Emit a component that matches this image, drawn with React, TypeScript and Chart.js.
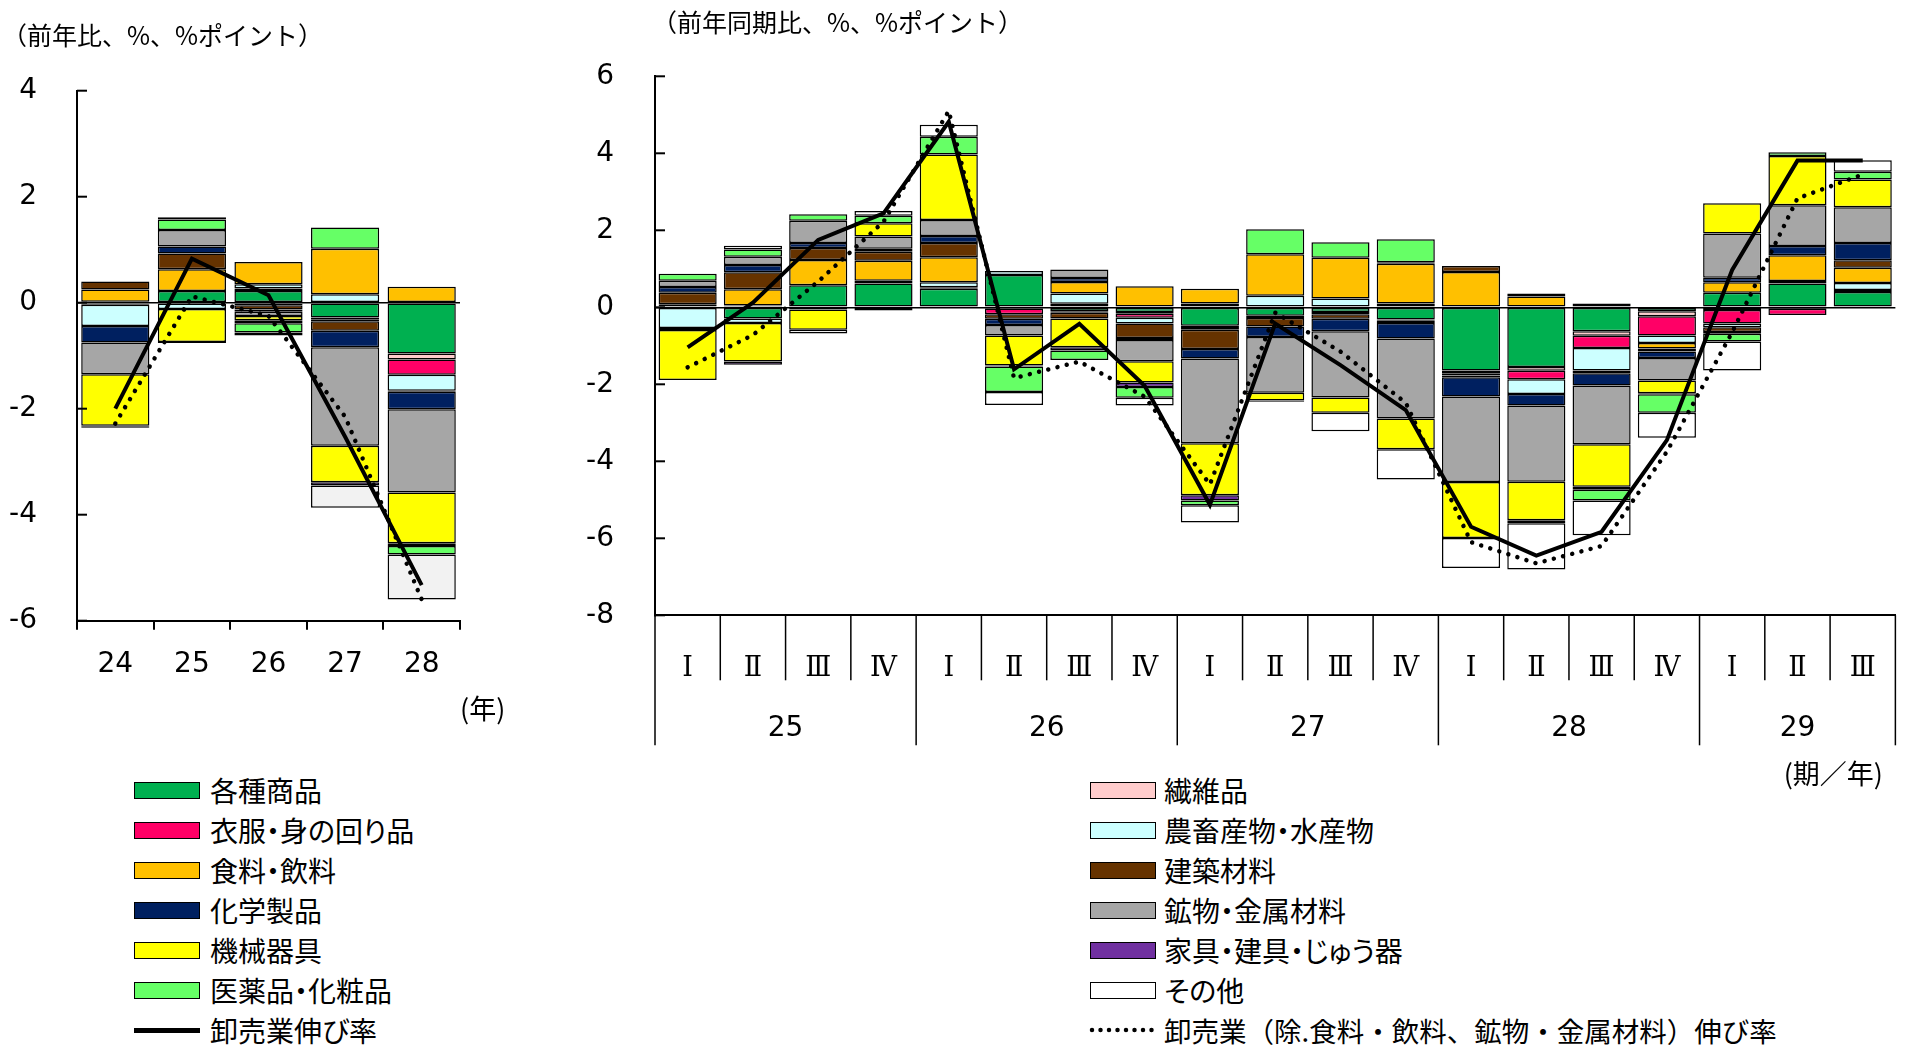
import React, { useEffect, useRef } from 'react';
import { Chart, registerables } from 'chart.js';
Chart.register(...registerables);

// ---------- data ----------
const SERIES = ['各種商品', '繊維品', '衣服・身の回り品', '農畜産物・水産物', '食料・飲料', '建築材料', '化学製品', '鉱物・金属材料', '機械器具', '家具・建具・じゅう器', '医薬品・化粧品', 'その他'];
const COLORS = ['#00B050', '#FFCCCC', '#FF0066', '#CCFFFF', '#FFC000', '#663300', '#002060', '#A6A6A6', '#FFFF00', '#7030A0', '#66FF66', '#FFFFFF'];
const LINE_LABEL = '卸売業伸び率';
const DOT_LABEL = '卸売業（除.食料・飲料、鉱物・金属材料）伸び率';

// left chart (annual)
const YEARS = ['24', '25', '26', '27', '28'];
const Y_KAKUSHU = [0.02, 0.22, 0.22, -0.28, -0.96];
const Y_SENI = [-0.02, 0, 0.05, -0.03, -0.11];
const Y_IFUKU = [-0.02, 0, -0.05, -0.04, -0.29];
const Y_NOCHIKU = [-0.40, -0.12, 0.08, 0.16, -0.30];
const Y_SHOKURYO = [0.23, 0.41, 0.42, 0.86, 0.30];
const Y_KENCHIKU = [0.15, 0.30, -0.08, -0.18, -0.02];
const Y_KAGAKU = [-0.31, 0.13, -0.04, -0.31, -0.33];
const Y_KOBUTSU = [-0.60, 0.31, -0.08, -1.86, -1.57];
const Y_KIKAI = [-0.97, -0.62, -0.08, -0.69, -0.96];
const Y_KAGU = [-0.02, -0.02, -0.06, -0.06, -0.05];
const Y_IYAKU = [0, 0.20, -0.17, 0.40, -0.16];
const Y_SONOTA = [-0.02, 0.04, -0.06, -0.42, -0.85];
const Y_TOTAL = [-2.0, 0.83, 0.14, -2.53, -5.33];
const Y_EXCL = [-2.28, 0.12, -0.25, -2.15, -5.6];

// right chart (quarterly)
const QUARTERS = ['Ⅰ', 'Ⅱ', 'Ⅲ', 'Ⅳ', 'Ⅰ', 'Ⅱ', 'Ⅲ', 'Ⅳ', 'Ⅰ', 'Ⅱ', 'Ⅲ', 'Ⅳ', 'Ⅰ', 'Ⅱ', 'Ⅲ', 'Ⅳ', 'Ⅰ', 'Ⅱ', 'Ⅲ'];
const Q_YEARS = ['25', '26', '27', '28', '29'];
const Q_YEAR_SPANS = [4, 4, 4, 4, 3];
const Q_KAKUSHU = [0.08, -0.29, 0.57, 0.62, 0.48, 0.84, -0.10, -0.12, -0.48, -0.22, -0.12, -0.32, -1.64, -1.55, -0.62, -0.10, 0.38, 0.62, 0.40];
const Q_SENI = [0, 0.05, 0, 0, 0.04, -0.03, 0.09, -0.05, -0.03, 0, -0.03, 0, -0.07, -0.10, -0.12, -0.13, -0.07, -0.04, 0.05];
const Q_IFUKU = [0, 0, -0.06, -0.08, 0, -0.15, -0.04, -0.10, -0.07, -0.06, -0.03, -0.03, -0.06, -0.22, -0.32, -0.50, -0.35, -0.16, 0];
const Q_NOCHIKU = [-0.54, -0.12, 0, 0.07, 0.13, 0.10, 0.27, -0.15, 0.10, 0.30, 0.23, 0.10, -0.05, -0.38, -0.58, -0.20, -0.10, 0.06, 0.18];
const Q_SHOKURYO = [-0.05, 0.42, 0.66, 0.52, 0.65, 0, 0.30, 0.55, 0.38, 1.08, 1.06, 1.03, 0.92, 0.28, 0.10, -0.14, 0.27, 0.67, 0.40];
const Q_KENCHIKU = [0.30, 0.44, 0.31, 0.23, 0.37, -0.12, -0.15, -0.38, -0.50, -0.22, -0.12, -0.06, 0.15, 0.08, -0.07, -0.08, -0.12, 0, 0.19];
const Q_KAGAKU = [0.15, 0.19, 0.13, 0.08, 0.18, -0.16, 0.10, -0.05, -0.25, -0.27, -0.32, -0.40, -0.50, -0.30, -0.32, -0.17, 0.12, 0.24, 0.45];
const Q_KOBUTSU = [0.16, 0.21, 0.58, 0.32, 0.42, -0.27, 0.22, -0.55, -2.20, -1.45, -1.72, -2.08, -2.22, -1.98, -1.53, -0.58, 1.15, 1.06, 0.93];
const Q_KIKAI = [-1.30, -1.00, -0.52, 0.34, 1.70, -0.78, -0.75, -0.55, -1.35, -0.20, -0.40, -0.80, -1.45, -1.00, -1.10, -0.33, 0.78, 1.28, 0.72];
const Q_KAGU = [0, -0.08, 0, 0, 0, -0.03, -0.08, -0.12, -0.14, -0.03, 0, 0.04, 0, -0.08, -0.08, -0.03, -0.05, 0, 0];
const Q_IYAKU = [0.18, 0.19, 0.17, 0.20, 0.46, -0.66, -0.25, -0.28, -0.12, 0.65, 0.40, 0.60, 0, 0, -0.28, -0.48, -0.20, 0.10, 0.20];
const Q_SONOTA = [0, 0.10, -0.10, 0.12, 0.31, -0.34, 0, -0.20, -0.45, 0, -0.48, -0.78, -0.78, -1.20, -0.90, -0.65, -0.75, 0, 0.30];
const Q_TOTAL = [-1.04, 0.12, 1.75, 2.44, 4.82, -1.61, -0.43, -2.04, -5.13, -0.42, -1.50, -2.67, -5.70, -6.45, -5.83, -3.45, 0.97, 3.81, 3.81];
const Q_EXCL = [-1.56, -0.72, 0.67, 2.22, 5.10, -1.84, -1.41, -2.32, -4.60, -0.14, -1.15, -2.48, -6.10, -6.65, -6.20, -3.75, -0.65, 2.83, 3.45];

const YEAR_SERIES = [Y_KAKUSHU, Y_SENI, Y_IFUKU, Y_NOCHIKU, Y_SHOKURYO, Y_KENCHIKU, Y_KAGAKU, Y_KOBUTSU, Y_KIKAI, Y_KAGU, Y_IYAKU, Y_SONOTA];
const Q_SERIES = [Q_KAKUSHU, Q_SENI, Q_IFUKU, Q_NOCHIKU, Q_SHOKURYO, Q_KENCHIKU, Q_KAGAKU, Q_KOBUTSU, Q_KIKAI, Q_KAGU, Q_IYAKU, Q_SONOTA];

const NUM_FONT = "'DejaVu Sans', Verdana, sans-serif";
const JP_FONT = "'Noto Sans CJK JP', 'Noto Sans', sans-serif";
const ROMAN_FONT = "'DejaVu Serif', 'Noto Sans CJK JP', serif";

function buildDatasets(series: number[][], total: number[], excl: number[], otherColor: string) {
  const bars = series.map((vals, i) => ({
    type: 'bar',
    label: SERIES[i],
    data: vals,
    backgroundColor: i === 11 ? otherColor : COLORS[i],
    borderColor: '#000',
    borderWidth: 1.5,
    borderSkipped: false,
    stack: 'bars',
    order: 2,
    barPercentage: 0.89,
    categoryPercentage: 1,
  }));
  const lines = [
    {
      type: 'line', label: LINE_LABEL, data: total, borderColor: '#000', borderWidth: 4,
      pointRadius: 0, tension: 0, fill: false, stack: 'l1', order: 0, borderJoinStyle: 'miter',
    },
    {
      type: 'line', label: DOT_LABEL, data: excl, borderColor: '#000', borderWidth: 4.5,
      borderDash: [0.01, 9.5], borderCapStyle: 'round', pointRadius: 0, tension: 0, fill: false,
      stack: 'l2', order: 1,
    },
  ];
  return [...bars, ...lines];
}

const inwardTicks = {
  id: 'inwardTicks',
  afterDraw(chart: any) {
    const { ctx, chartArea, scales } = chart;
    const y = scales.y;
    ctx.save();
    ctx.strokeStyle = '#000';
    ctx.lineWidth = 2;
    y.ticks.forEach((_t: any, i: number) => {
      const py = y.getPixelForTick(i);
      ctx.beginPath();
      ctx.moveTo(chartArea.left, py);
      ctx.lineTo(chartArea.left + 10, py);
      ctx.stroke();
    });
    ctx.restore();
  },
};

const quarterAxis = {
  id: 'quarterAxis',
  afterDraw(chart: any) {
    const { ctx, chartArea, scales } = chart;
    const x = scales.x;
    const n = QUARTERS.length;
    const w = x.getPixelForValue(1) - x.getPixelForValue(0);
    const yearBounds = new Set<number>();
    let acc = 0;
    yearBounds.add(0);
    Q_YEAR_SPANS.forEach((s) => { acc += s; yearBounds.add(acc); });
    ctx.save();
    ctx.strokeStyle = '#000';
    ctx.lineWidth = 1.5;
    for (let i = 0; i <= n; i++) {
      const px = x.getPixelForValue(0) - w / 2 + i * w;
      ctx.beginPath();
      ctx.moveTo(px, chartArea.bottom);
      ctx.lineTo(px, chartArea.bottom + (yearBounds.has(i) ? 130 : 65));
      ctx.stroke();
    }
    ctx.fillStyle = '#000';
    ctx.font = `28px ${NUM_FONT}`;
    ctx.textAlign = 'center';
    ctx.textBaseline = 'middle';
    let start = 0;
    Q_YEAR_SPANS.forEach((s, k) => {
      const cx = x.getPixelForValue(0) - w / 2 + (start + s / 2) * w;
      ctx.fillText(Q_YEARS[k], cx, 729);
      start += s;
    });
    ctx.restore();
  },
};

function leftConfig(): any {
  return {
    type: 'bar',
    data: { labels: YEARS, datasets: buildDatasets(YEAR_SERIES, Y_TOTAL, Y_EXCL, '#F2F2F2') },
    options: {
      animation: false,
      responsive: false,
      layout: { padding: { left: 0, right: 80, top: 90.7, bottom: 79.3 } },
      plugins: { legend: { display: false }, tooltip: { enabled: false } },
      scales: {
        x: {
          stacked: true,
          offset: true,
          grid: { display: true, offset: true, drawOnChartArea: false, drawTicks: true, tickLength: 9, color: '#000', lineWidth: 2 },
          border: { display: true, color: '#000', width: 2 },
          ticks: { padding: 18, color: '#000', font: { family: NUM_FONT, size: 28 }, maxRotation: 0, autoSkip: false },
          afterFit: (s: any) => { s.height = 60; },
        },
        y: {
          stacked: true,
          min: -6,
          max: 4,
          ticks: { stepSize: 2, padding: 40, color: '#000', font: { family: NUM_FONT, size: 28 } },
          grid: { drawTicks: false, color: (c: any) => (c.tick && c.tick.value === 0 ? '#000' : 'rgba(0,0,0,0)'), lineWidth: 1.5 },
          border: { display: true, color: '#000', width: 2 },
          afterFit: (s: any) => { s.width = 77; },
        },
      },
    },
    plugins: [inwardTicks],
  };
}

function rightConfig(): any {
  return {
    type: 'bar',
    data: { labels: QUARTERS, datasets: buildDatasets(Q_SERIES, Q_TOTAL, Q_EXCL, '#FFFFFF') },
    options: {
      animation: false,
      responsive: false,
      layout: { padding: { left: 0, right: 9.3, top: 76.3, bottom: 14.7 } },
      plugins: { legend: { display: false }, tooltip: { enabled: false } },
      scales: {
        x: {
          stacked: true,
          offset: true,
          grid: { display: false },
          border: { display: true, color: '#000', width: 2 },
          ticks: { padding: 29, color: '#000', font: { family: ROMAN_FONT, size: 27 }, maxRotation: 0, autoSkip: false },
          afterFit: (s: any) => { s.height = 130; },
        },
        y: {
          stacked: true,
          min: -8,
          max: 6,
          ticks: { stepSize: 2, padding: 41, color: '#000', font: { family: NUM_FONT, size: 28 } },
          grid: { drawTicks: false, color: (c: any) => (c.tick && c.tick.value === 0 ? '#000' : 'rgba(0,0,0,0)'), lineWidth: 1.5 },
          border: { display: true, color: '#000', width: 2 },
          afterFit: (s: any) => { s.width = 115; },
        },
      },
    },
    plugins: [inwardTicks, quarterAxis],
  };
}

const LEGEND_ROWS = [790, 830, 870, 910, 950, 990, 1030];
const LEFT_ITEMS = [0, 2, 4, 6, 8, 10];
const RIGHT_ITEMS = [1, 3, 5, 7, 9, 11];

function Text({ x, cy, size, children, align, palt }: any) {
  const style: any = {
    position: 'absolute', top: cy - 20, height: 40, lineHeight: '40px', fontSize: size,
    whiteSpace: 'nowrap', fontFamily: JP_FONT, color: '#000',
  };
  if (palt) style.fontFeatureSettings = '"palt"';
  if (align === 'right') style.right = 1905 - x; else style.left = x;
  return <div style={style}>{children}</div>;
}

function Swatch({ x, cy, color }: any) {
  return (
    <div style={{
      position: 'absolute', left: x, top: cy - 8, width: 66, height: 17, boxSizing: 'border-box',
      border: '1.5px solid #000', background: color,
    }} />
  );
}

export default function App() {
  const leftRef = useRef<HTMLCanvasElement>(null);
  const rightRef = useRef<HTMLCanvasElement>(null);
  useEffect(() => {
    const c1 = new Chart(leftRef.current as HTMLCanvasElement, leftConfig());
    const c2 = new Chart(rightRef.current as HTMLCanvasElement, rightConfig());
    return () => { c1.destroy(); c2.destroy(); };
  }, []);
  return (
    <div style={{ position: 'absolute', left: 0, top: 0, width: 1905, height: 1045, background: '#fff', overflow: 'hidden' }}>
      <canvas ref={leftRef} width={540} height={760} style={{ position: 'absolute', left: 0, top: 0 }} />
      <canvas ref={rightRef} width={1365} height={760} style={{ position: 'absolute', left: 540, top: 0 }} />
      <Text x={2} cy={34} size={25}>（前年比、%、%ポイント）</Text>
      <Text x={652} cy={21} size={25}>（前年同期比、%、%ポイント）</Text>
      <Text x={460} cy={708} size={27}>(年)</Text>
      <Text x={1883} cy={773} size={27} align="right">(期／年)</Text>
      {LEFT_ITEMS.map((si, r) => (
        <React.Fragment key={'l' + si}>
          <Swatch x={134} cy={LEGEND_ROWS[r]} color={COLORS[si]} />
          <Text x={210} cy={LEGEND_ROWS[r]} size={28} palt>{SERIES[si]}</Text>
        </React.Fragment>
      ))}
      {RIGHT_ITEMS.map((si, r) => (
        <React.Fragment key={'r' + si}>
          <Swatch x={1090} cy={LEGEND_ROWS[r]} color={COLORS[si]} />
          <Text x={1164} cy={LEGEND_ROWS[r]} size={28} palt>{SERIES[si]}</Text>
        </React.Fragment>
      ))}
      <div style={{ position: 'absolute', left: 134, top: LEGEND_ROWS[6] - 2.5, width: 66, height: 5, background: '#000' }} />
      <Text x={210} cy={LEGEND_ROWS[6]} size={28} palt>{LINE_LABEL}</Text>
      <svg style={{ position: 'absolute', left: 1088, top: LEGEND_ROWS[6] - 5 }} width={70} height={10}>
        <line x1={4} y1={5} x2={66} y2={5} stroke="#000" strokeWidth={4.5} strokeDasharray="0 8.5" strokeLinecap="round" />
      </svg>
      <Text x={1164} cy={LEGEND_ROWS[6]} size={27.5}>{DOT_LABEL}</Text>
    </div>
  );
}
